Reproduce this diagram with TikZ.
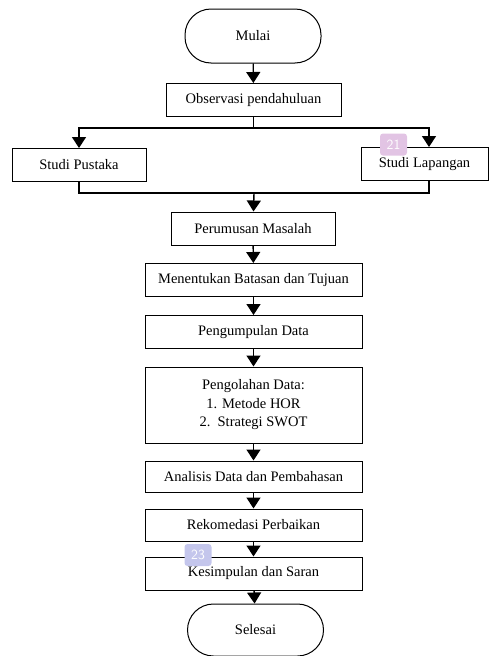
\documentclass[tikz,border=0pt]{standalone}
\usepackage{fontspec}
\setmainfont{Liberation Serif}
\usepackage{tikz}
\usetikzlibrary{arrows.meta, positioning, calc}
\definecolor{markA}{RGB}{226, 196, 228}
\definecolor{markB}{RGB}{196, 198, 236}
\tikzset{
    process/.style={rectangle, draw=black, line width=1pt, minimum height=33pt, align=center, font=\fontsize{14.5}{18.5}\selectfont, inner sep=2pt},
    terminal/.style={rectangle, rounded corners=26pt, draw=black, line width=1pt, minimum width=136pt, minimum height=54pt, align=center, font=\fontsize{14.5}{17}\selectfont},
    arrow/.style={line width=1.4pt,-{Triangle[length=11pt,width=14pt]}},
    line/.style={line width=1.4pt},
    marker/.style={rectangle, rounded corners=3pt, minimum width=27pt, minimum height=22pt, text=white, font=\sffamily\fontsize{14}{16}\selectfont}
}

\begin{document}
\begin{tikzpicture}[x=1pt, y=-1pt]
    \useasboundingbox (0,0) rectangle (489,656);

    % Start
    \node[terminal] (mulai) at (253, 36) {Mulai};
    \node[process, minimum width=175pt] (obs) at (253.5, 100) {Observasi pendahuluan};

    % Studi
    \node[process, minimum width=134pt] (pustaka) at (79, 165) {Studi Pustaka};
    \node[process, minimum width=127pt] (lapangan) at (424.5, 164) {Studi Lapangan};
    \coordinate (split) at (253.5, 128);
    \coordinate (merge) at (254, 193);

    % Main steps
    \node[process, minimum width=164pt] (rumus) at (253, 228.5) {Perumusan Masalah};
    \node[process, minimum width=217pt] (batasan) at (253.5, 280) {Menentukan Batasan dan Tujuan};
    \node[process, minimum width=217pt] (kumpul) at (253.5, 332) {Pengumpulan Data};
    \node[process, minimum width=217pt, minimum height=76pt] (olah) at (253.5, 405) {Pengolahan Data:\\1. Metode HOR\\2.\ \ Strategi SWOT};
    \node[process, minimum width=217pt, minimum height=31pt] (analisis) at (253.5, 476.5) {Analisis Data dan Pembahasan};
    \node[process, minimum width=217pt, minimum height=32pt] (rekomendasi) at (253.5, 525) {Rekomedasi Perbaikan};
    \node[process, minimum width=217pt] (simpulan) at (253.5, 573.5) {Kesimpulan dan Saran};

    % End
    \node[terminal, minimum height=52pt] (selesai) at (255.5, 630) {Selesai};

    % Markers
    \node[marker, fill=markA] (m21) at (393.5, 144.5) {21};
    \node[marker, fill=markB] (m23) at (198, 555) {23};

    % Arrows
    \draw[arrow] (mulai) -- (obs);
    \draw[line] (obs) -- (split);
    \draw[arrow] (split) -| (pustaka);
    \draw[arrow] (split) -| ([xshift=4.5pt]lapangan.north);
    \draw[line] (pustaka) |- (merge) -| ([xshift=4.5pt]lapangan.south);
    \draw[arrow] (merge) -- (rumus);
    \draw[arrow] (rumus) -- (batasan);
    \draw[arrow] (batasan) -- (kumpul);
    \draw[arrow] (kumpul) -- (olah);
    \draw[arrow] (olah) -- (analisis);
    \draw[arrow] (analisis) -- (rekomendasi);
    \draw[arrow] (rekomendasi) -- (simpulan);
    \draw[arrow] (simpulan) -- (selesai);
\end{tikzpicture}
\end{document}
